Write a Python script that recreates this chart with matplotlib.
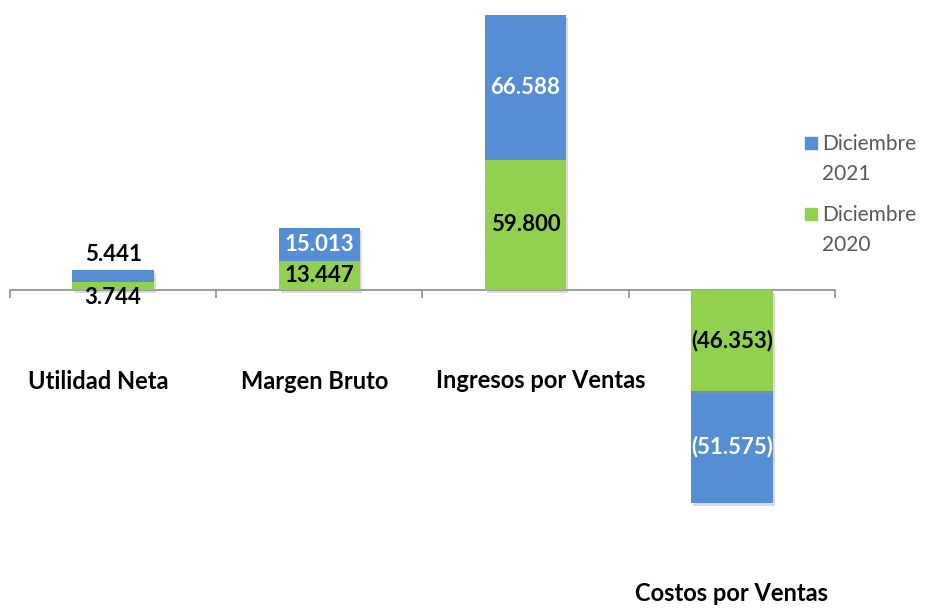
import numpy as np
import matplotlib.pyplot as plt
from matplotlib.patches import Rectangle
import matplotlib.patheffects as pe

categorias = ['Utilidad Neta', 'Margen Bruto', 'Ingresos por Ventas', 'Costos por Ventas']
dic_2021 = [5.441, 15.013, 66.588, -51.575]
dic_2020 = [3.744, 13.447, 59.800, -46.353]
etq_2021 = ['5.441', '15.013', '66.588', '(51.575)']
etq_2020 = ['3.744', '13.447', '59.800', '(46.353)']
series = ['Diciembre\n2021', 'Diciembre\n2020']

azul = '#558ED5'
verde = '#92D050'

plt.rcParams['font.family'] = ['Lato', 'DejaVu Sans']

fig = plt.figure(figsize=(9.28, 6.09), dpi=100)
ax = fig.add_axes([10/928, 0, 825/928, 599/609])

x = np.arange(len(categorias))
d20 = np.array(dic_2020)
d21 = np.array(dic_2021)
sombra = [pe.SimplePatchShadow(offset=(1.5, -2), shadow_rgbFace='#999999', alpha=0.35), pe.Normal()]
ax.bar(x, d20, width=0.395, color=verde, zorder=3, path_effects=sombra)
ax.bar(x, d21, width=0.395, bottom=d20, color=azul, zorder=2, path_effects=sombra)

# etiquetas centradas en cada tramo; la primera categoria va fuera de la barra
y21 = d20 + d21 / 2
y20 = d20 / 2
y21[0] = 16.1
y20[0] = -3.7
col21 = ['black', 'white', 'white', 'white']

for i in range(len(categorias)):
    ax.text(x[i], y21[i], etq_2021[i], ha='center', va='center',
            fontsize=16, fontweight='bold', color=col21[i], zorder=5)
    ax.text(x[i], y20[i], etq_2020[i], ha='center', va='center',
            fontsize=16, fontweight='bold', color='black', zorder=5)

y_cat = [-42.2, -42.2, -41.7, -139.5]
dx_cat = [-0.073, -0.024, 0.073, 0.0]
for i in range(len(categorias)):
    ax.text(x[i] + dx_cat[i], y_cat[i], categorias[i], ha='center', va='center',
            fontsize=17, fontweight='bold', color='black')

ax.set_xlim(-0.5, 3.5)
ax.set_ylim(-146.7, 128.7)

for s in ['top', 'right', 'left']:
    ax.spines[s].set_visible(False)
ax.spines['bottom'].set_position(('data', 0))
ax.spines['bottom'].set_color('#8C8C8C')
ax.spines['bottom'].set_linewidth(1.2)
ax.set_yticks([])
ax.set_xticks(np.arange(-0.5, 4, 1))
ax.set_xticklabels([])
ax.tick_params(axis='x', direction='out', length=6, color='#8C8C8C', width=1.2)

# leyenda a mano: el cuadro va a la altura de la primera linea
W, H = 928, 609
for k, (nombre, c) in enumerate(zip(series, [azul, verde])):
    ytop = 137 + k * 71
    fig.add_artist(Rectangle((805 / W, 1 - (ytop + 12) / H), 12 / W, 12 / H,
                             transform=fig.transFigure, color=c))
    fig.text(822 / W, 1 - (ytop - 3) / H, nombre, ha='left', va='top',
             fontsize=15, color='#595959', linespacing=1.6)

fig.savefig('out.png', dpi=100)
